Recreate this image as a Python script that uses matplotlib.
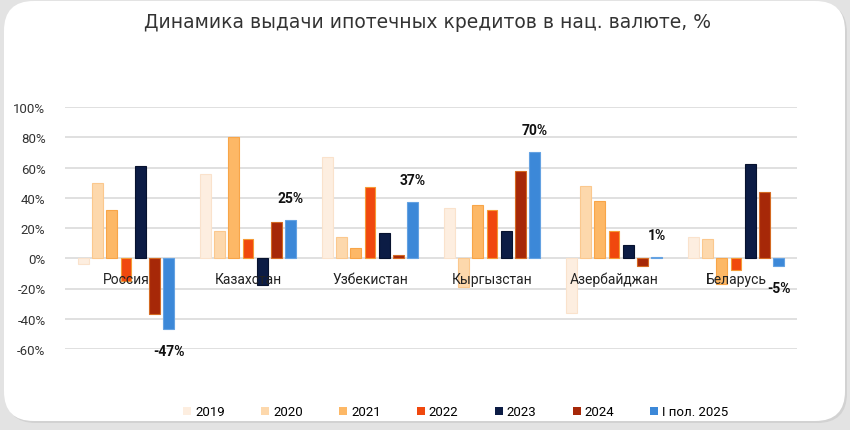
import matplotlib
matplotlib.use("Agg")
import matplotlib.pyplot as plt
import numpy as np
from matplotlib.patches import FancyBboxPatch, Patch

countries = ["Россия", "Казахстан", "Узбекистан", "Кыргызстан", "Азербайджан", "Беларусь"]
series_names = ["2019", "2020", "2021", "2022", "2023", "2024", "I пол. 2025"]
v2019 = [-4, 56, 67, 33, -36, 14]
v2020 = [50, 18, 14, -19, 48, 13]
v2021 = [32, 80, 7, 35, 38, -17]
v2022 = [-15, 13, 47, 32, 18, -8]
v2023 = [61, -18, 17, 18, 9, 62]
v2024 = [-37, 24, 2, 58, -5, 44]
v2025 = [-47, 25, 37, 70, 1, -5]
values = [v2019, v2020, v2021, v2022, v2023, v2024, v2025]
yticks = [-60, -40, -20, 0, 20, 40, 60, 80, 100]

faces = ["#FDEEE0", "#FDD8AC", "#FDB866", "#F0480E", "#0C1C45", "#A62808", "#3C88D8"]
edges = ["#FAE2CC", "#FBC88E", "#F8A548", "#F59A35", "#07122E", "#D46A22", "#64A2E2"]

plt.rcParams['font.family'] = ['Roboto', 'DejaVu Sans']

W, H = 850, 431
fig = plt.figure(figsize=(W/100, H/100), dpi=100)
fig.patch.set_facecolor("#E3E3E3")
shadow = FancyBboxPatch((6/W, 7/H), 841/W, 420/H, boxstyle="round,pad=0,rounding_size=0.035",
                        transform=fig.transFigure, facecolor="#D2D2D2", edgecolor="none",
                        mutation_aspect=W/H, zorder=-6)
fig.patches.append(shadow)
card = FancyBboxPatch((4/W, 9/H), 841/W, 420/H, boxstyle="round,pad=0,rounding_size=0.035",
                      transform=fig.transFigure, facecolor="white", edgecolor="none",
                      mutation_aspect=W/H, zorder=-5)
fig.patches.append(card)

ax = fig.add_axes([65/W, 1-350/H, 732/W, 242/H])
ax.set_facecolor("none")
ax.set_zorder(2)
n = len(series_names)
step = 0.117
bw = 0.088
x = np.arange(len(countries)) + 0.5
for i, (vals, fc, ec, name) in enumerate(zip(values, faces, edges, series_names)):
    ax.bar(x + (i - (n-1)/2)*step, vals, width=bw, color=fc, edgecolor=ec, linewidth=0.8,
           label=name, zorder=3)

# labels for last series
for xi, v in zip(x + (n-1)/2*step, v2025):
    off = 22 if v >= 0 else -22
    ax.annotate(f"{v}%", (xi, v), xytext=(0, off), textcoords="offset pixels",
                ha="center", va="center", fontsize=10, fontweight="bold", color="#111111", zorder=5)

for xi, c in zip(x, countries):
    ax.text(xi, -13.5, c, ha="center", va="center", fontsize=10, color="#222222", zorder=6)

ax.set_xlim(0, len(countries))
ax.set_ylim(-60, 100)
ax.set_yticks(yticks)
ax.set_yticklabels([f"{t}%" for t in yticks], fontsize=9.5, color="#333333")
ax.set_xticks([])
ax.tick_params(axis="y", length=0, pad=14)
ax.grid(axis="y", color="#DADADA", linewidth=1.2, zorder=0)
ax.set_axisbelow(True)
for s in ax.spines.values():
    s.set_visible(False)

fig.text(427/W, 1-22/H, "Динамика выдачи ипотечных кредитов в нац. валюте, %",
         ha="center", va="center", fontsize=13.5, color="#333333", family="DejaVu Sans")

handles = [Patch(facecolor=fc, edgecolor="none") for fc in faces]
leg = fig.legend(handles, series_names, loc="center", bbox_to_anchor=(456/W, 1-413/H), ncol=7,
                 frameon=False, fontsize=9.5, handlelength=0.6, handleheight=0.6,
                 handletextpad=0.3, columnspacing=2.75)

fig.savefig("out.png", dpi=100, facecolor=fig.get_facecolor())
